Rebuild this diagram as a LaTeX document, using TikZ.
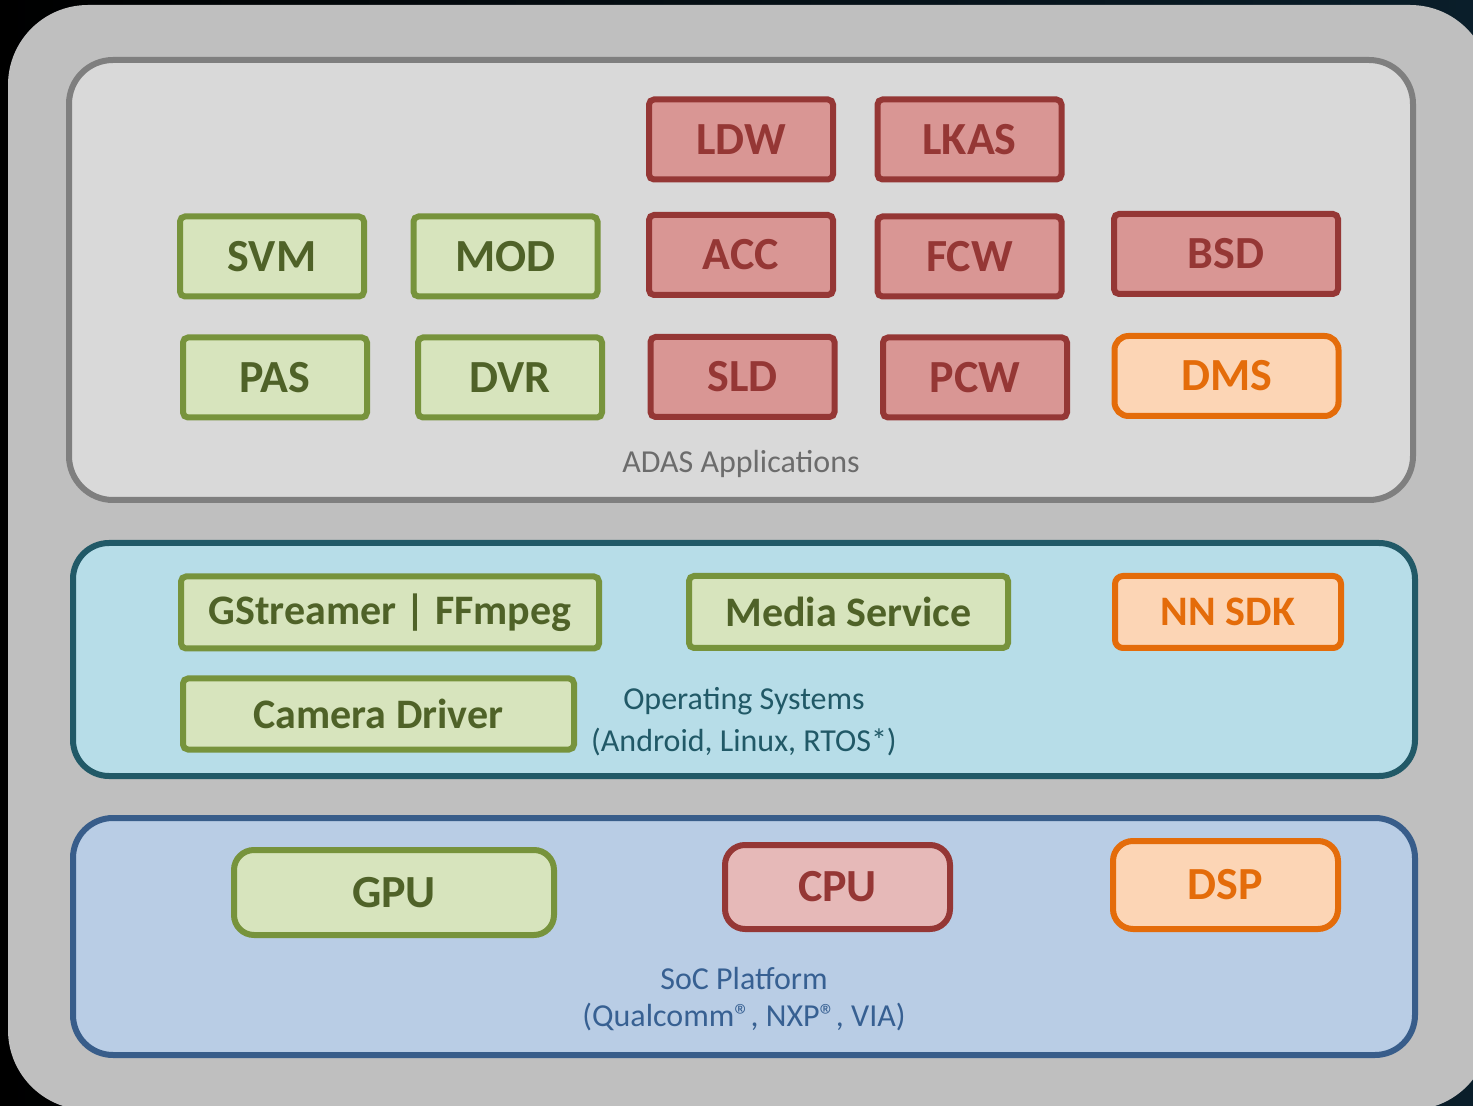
\documentclass[tikz,border=0pt]{standalone}
\usepackage{fontspec}
\setmainfont{Carlito}
\usepackage{tikz}
\usetikzlibrary{positioning}

\definecolor{greenfill}{HTML}{D7E4BD}
\definecolor{greenline}{HTML}{77933C}
\definecolor{greentext}{HTML}{4F6228}
\definecolor{redfill}{HTML}{D99694}
\definecolor{redline}{HTML}{953735}
\definecolor{cpufill}{HTML}{E6B9B8}
\definecolor{orangefill}{HTML}{FCD5B5}
\definecolor{orangeline}{HTML}{E46C0A}
\definecolor{outergray}{HTML}{BFBFBF}
\definecolor{adasfill}{HTML}{D9D9D9}
\definecolor{adasline}{HTML}{7F7F7F}
\definecolor{osfill}{HTML}{B7DDE8}
\definecolor{osline}{HTML}{215967}
\definecolor{socfill}{HTML}{B9CDE5}
\definecolor{socline}{HTML}{385D8A}
\definecolor{soctext}{HTML}{376092}
\definecolor{bgteal}{HTML}{0A1E2A}

\begin{document}
\begin{tikzpicture}[
    x=0.5pt, y=-0.5pt,
    appbox/.style={draw, line width=3pt, inner sep=0pt, rounded corners=2.5pt,
        minimum width=92pt, minimum height=40pt,
        font=\bfseries\fontsize{23}{26}\selectfont},
    greenbox/.style={appbox, fill=greenfill, draw=greenline, text=greentext},
    redbox/.style={appbox, fill=redfill, draw=redline, text=redline},
    orangebox/.style={appbox, fill=orangefill, draw=orangeline, text=orangeline, rounded corners=7pt},
    swbox/.style={font=\bfseries\fontsize{21}{24}\selectfont, minimum height=36pt},
    hwbox/.style={font=\bfseries\fontsize{23}{26}\selectfont, minimum height=42.5pt, rounded corners=10pt},
    panel/.style={line width=3pt},
    paneltext/.style={font=\fontsize{16}{19}\selectfont, inner sep=0pt}
]
\clip (0,0) rectangle (1473,1106);
\shade[left color=black, right color=bgteal] (0,0) rectangle (1473,1106);

% layers
\fill[outergray, rounded corners=40pt] (8,5) rectangle (1490,1110);
\draw[panel, fill=adasfill, draw=adasline, rounded corners=22pt] (69,60) rectangle (1413,500);
\draw[panel, fill=osfill, draw=osline, rounded corners=18pt] (73,543) rectangle (1415,776);
\draw[panel, fill=socfill, draw=socline, rounded corners=20pt] (73,818) rectangle (1415,1055);

% ADAS applications
\node[redbox](ldw) at (741, 139.5) {LDW};
\node[redbox](lkas) at (969.5, 139.5) {LKAS};

\node[greenbox](svm) at (272, 256.5) {SVM};
\node[greenbox](mod) at (505.5, 256.5) {MOD};
\node[redbox](acc) at (741, 255) {ACC};
\node[redbox](fcw) at (969.5, 256.5) {FCW};
\node[redbox, minimum width=112pt](bsd) at (1226, 254) {BSD};

\node[greenbox](pas) at (275, 377.5) {PAS};
\node[greenbox](dvr) at (510, 377.5) {DVR};
\node[redbox](sld) at (742.5, 377) {SLD};
\node[redbox](pcw) at (975, 377.5) {PCW};
\node[orangebox, minimum width=112pt](dms) at (1226.5, 376) {DMS};

\node[paneltext, text=adasline!85!black](adas) at (741, 464) {ADAS Applications};

% operating systems
\node[greenbox, swbox, minimum width=209pt](gst) at (390, 612.5) {GStreamer | FFmpeg};
\node[greenbox, swbox, minimum width=159.5pt](media) at (848.5, 612) {Media Service};
\node[orangebox, swbox, minimum width=113pt, rounded corners=4pt](nnsdk) at (1228, 612) {NN SDK};
\node[greenbox, swbox, minimum width=195.5pt, minimum height=35.5pt](cam) at (378.5, 714) {Camera Driver};

\node[paneltext, text=osline](os1) at (744, 701) {Operating Systems};
\node[paneltext, text=osline, below=6pt of os1](os2) {(Android, Linux, RTOS*)};

% SoC platform
\node[greenbox, hwbox, minimum width=160pt](gpu) at (394, 892.5) {GPU};
\node[redbox, hwbox, fill=cpufill, minimum width=112.5pt, minimum height=42pt](cpu) at (837.5, 887) {CPU};
\node[orangebox, hwbox, minimum width=112.5pt, minimum height=44pt](dsp) at (1225.5, 885) {DSP};

\node[paneltext, text=soctext](soc1) at (744, 979) {SoC Platform};
\node[paneltext, text=soctext, below=6pt of soc1](soc2) {(Qualcomm®, NXP®, VIA)};
\end{tikzpicture}
\end{document}
